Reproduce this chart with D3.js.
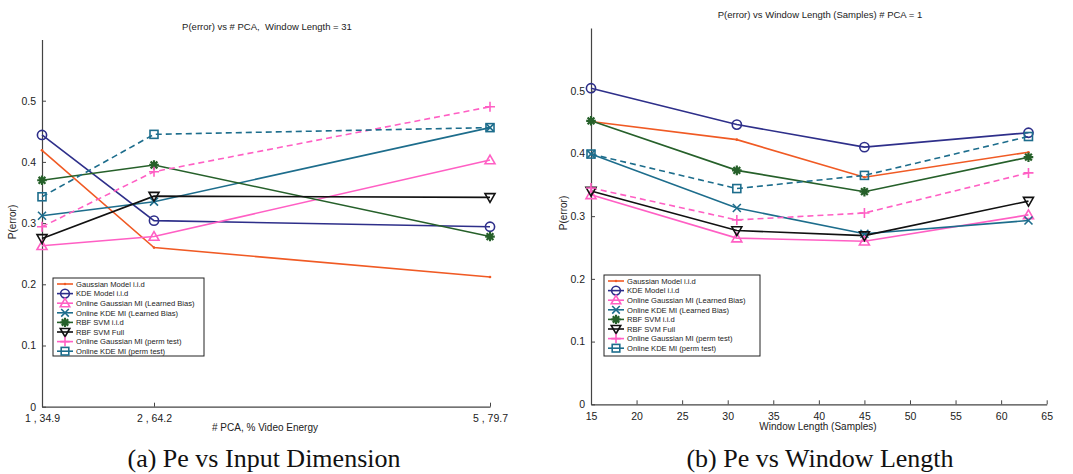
<!DOCTYPE html>
<html>
<head>
<meta charset="utf-8">
<script src="https://cdn.jsdelivr.net/npm/d3@7"></script>
<style>
  body { margin: 0; background: #fff; }
  svg { display: block; }
  text { font-family: "Liberation Sans", Arial, sans-serif; fill: #222; white-space: pre; }
  .cap { font-family: "Liberation Serif", "Times New Roman", serif; font-size: 26px; fill: #111; }
</style>
</head>
<body>
<svg id="chart" width="1073" height="474"></svg>
<script>
// ---------- DATA ----------
const seriesNames = [
  "Gaussian Model i.i.d",
  "KDE Model i.i.d",
  "Online Gaussian MI (Learned Bias)",
  "Online KDE MI (Learned Bias)",
  "RBF SVM i.i.d",
  "RBF SVM Full",
  "Online Gaussian MI (perm test)",
  "Online KDE MI (perm test)"
];
// left panel: x = # PCA
const pcaX = [1, 2, 5];
const pcaTickLabels = ["1 , 34.9", "2 , 64.2", "5 , 79.7"];
const leftGaussian   = [0.419, 0.260, 0.212];
const leftKDE        = [0.444, 0.304, 0.294];
const leftOGaussLB   = [0.263, 0.278, 0.403];
const leftOKDELB     = [0.312, 0.335, 0.456];
const leftSVMiid     = [0.370, 0.395, 0.278];
const leftSVMFull    = [0.275, 0.344, 0.342];
const leftOGaussPerm = [0.294, 0.384, 0.490];
const leftOKDEPerm   = [0.343, 0.445, 0.456];

// right panel: x = window length
const winX = [15, 31, 45, 63];
const winTicks = [15, 20, 25, 30, 35, 40, 45, 50, 55, 60, 65];
const rightGaussian   = [0.451, 0.422, 0.362, 0.402];
const rightKDE        = [0.504, 0.446, 0.410, 0.433];
const rightOGaussLB   = [0.334, 0.265, 0.260, 0.302];
const rightOKDELB     = [0.399, 0.313, 0.272, 0.293];
const rightSVMiid     = [0.452, 0.373, 0.339, 0.394];
const rightSVMFull    = [0.340, 0.277, 0.269, 0.324];
const rightOGaussPerm = [0.345, 0.294, 0.305, 0.369];
const rightOKDEPerm   = [0.399, 0.344, 0.365, 0.427];

const yTicks = [0, 0.1, 0.2, 0.3, 0.4, 0.5];

// ---------- STYLE ----------
const styles = [
  { color: "#f05a24", dash: null,  marker: "dot" },
  { color: "#2e2f8a", dash: null,  marker: "circle" },
  { color: "#ff5fc4", dash: null,  marker: "triUp" },
  { color: "#1d6d8c", dash: null,  marker: "x" },
  { color: "#26602a", dash: null,  marker: "star" },
  { color: "#111111", dash: null,  marker: "triDown" },
  { color: "#ff5fc4", dash: "6,4", marker: "plus" },
  { color: "#1d6d8c", dash: "6,4", marker: "square" }
];

const svg = d3.select("#chart");

function drawMarker(g, type, x, y, color, s) {
  s = s || 1;
  const sw = 1.6;
  if (type === "dot") {
    g.append("circle").attr("cx", x).attr("cy", y).attr("r", 1.3 * s).attr("fill", color);
  } else if (type === "circle") {
    g.append("circle").attr("cx", x).attr("cy", y).attr("r", 4.6 * s)
      .attr("fill", "none").attr("stroke", color).attr("stroke-width", sw);
  } else if (type === "triUp") {
    const r = 5 * s;
    g.append("path").attr("d", `M${x},${y - r}L${x + r},${y + r * 0.75}L${x - r},${y + r * 0.75}Z`)
      .attr("fill", "none").attr("stroke", color).attr("stroke-width", sw);
  } else if (type === "triDown") {
    const r = 5 * s;
    g.append("path").attr("d", `M${x},${y + r}L${x + r},${y - r * 0.75}L${x - r},${y - r * 0.75}Z`)
      .attr("fill", "none").attr("stroke", color).attr("stroke-width", sw);
  } else if (type === "x") {
    const r = 4 * s;
    g.append("path").attr("d", `M${x - r},${y - r}L${x + r},${y + r}M${x - r},${y + r}L${x + r},${y - r}`)
      .attr("stroke", color).attr("stroke-width", sw);
  } else if (type === "plus") {
    const r = 5 * s;
    g.append("path").attr("d", `M${x - r},${y}L${x + r},${y}M${x},${y - r}L${x},${y + r}`)
      .attr("stroke", color).attr("stroke-width", sw);
  } else if (type === "square") {
    const r = 4 * s;
    g.append("rect").attr("x", x - r).attr("y", y - r).attr("width", 2 * r).attr("height", 2 * r)
      .attr("fill", "none").attr("stroke", color).attr("stroke-width", sw);
  } else if (type === "star") {
    const r = 4.8 * s;
    let d = "";
    for (let i = 0; i < 4; i++) {
      const a = i * Math.PI / 4;
      d += `M${x - r * Math.cos(a)},${y - r * Math.sin(a)}L${x + r * Math.cos(a)},${y + r * Math.sin(a)}`;
    }
    g.append("path").attr("d", d).attr("stroke", color).attr("stroke-width", 2.2);
    g.append("circle").attr("cx", x).attr("cy", y).attr("r", 2.4 * s).attr("fill", color);
  }
}

function panel(opts) {
  const g = svg.append("g");
  const x = d3.scaleLinear().domain(opts.xDomain).range(opts.xRange);
  const y = d3.scaleLinear().domain([0, 0.6]).range([opts.y0, opts.yTop]);

  // axes (ticks inward)
  const xAxis = d3.axisBottom(x).tickValues(opts.xTicks).tickSizeInner(-4).tickSizeOuter(0)
    .tickPadding(8).tickFormat((d, i) => opts.xTickLabels ? opts.xTickLabels[i] : d);
  const gx = g.append("g").attr("transform", `translate(0,${opts.y0})`).call(xAxis);
  gx.selectAll("text").attr("font-size", "10.5px").attr("fill", "#333");
  const yAxis = d3.axisLeft(y).tickValues(yTicks).tickSizeInner(-4).tickSizeOuter(0)
    .tickPadding(6).tickFormat(d => d === 0 ? "0" : d3.format(".1f")(d));
  const gy = g.append("g").attr("transform", `translate(${opts.xRange[0]},0)`).call(yAxis);
  gy.selectAll("text").attr("font-size", "10.5px").attr("fill", "#333");
  g.selectAll(".domain").attr("stroke", "#444").attr("stroke-width", 1.2);
  g.selectAll(".tick line").attr("stroke", "#444");

  // series
  const line = d3.line().x((d, i) => x(opts.xs[i])).y(d => y(d));
  opts.values.forEach((vals, k) => {
    const st = styles[k];
    g.append("path").attr("d", line(vals)).attr("fill", "none")
      .attr("stroke", st.color).attr("stroke-width", 1.6)
      .attr("stroke-dasharray", st.dash);
  });
  opts.values.forEach((vals, k) => {
    const st = styles[k];
    vals.forEach((v, i) => drawMarker(g, st.marker, x(opts.xs[i]), y(v), st.color));
  });

  // title & labels
  g.append("text").attr("x", opts.titleX).attr("y", opts.titleY).attr("text-anchor", "middle")
    .attr("font-size", "9.5px").text(opts.title);
  g.append("text").attr("x", opts.xLabelX).attr("y", opts.xLabelY).attr("text-anchor", "middle")
    .attr("font-size", "10px").text(opts.xLabel);
  g.append("text").attr("transform", `translate(${opts.yLabelX},${opts.yLabelY}) rotate(-90)`)
    .attr("text-anchor", "middle").attr("font-size", "10px").text("P(error)");
  g.append("text").attr("class", "cap").attr("x", opts.capX).attr("y", 467)
    .attr("text-anchor", "middle").text(opts.caption);

  // legend
  const L = opts.legend;
  const lg = g.append("g");
  lg.append("rect").attr("x", L.x).attr("y", L.y).attr("width", L.w).attr("height", L.h)
    .attr("fill", "#fff").attr("stroke", "#222").attr("stroke-width", 1);
  seriesNames.forEach((name, k) => {
    const st = styles[k];
    const cy = L.y + 6 + k * 9.6;
    lg.append("line").attr("x1", L.x + 4).attr("x2", L.x + 20).attr("y1", cy).attr("y2", cy)
      .attr("stroke", st.color).attr("stroke-width", 1.6);
    drawMarker(lg, st.marker, L.x + 12, cy, st.color, 0.95);
    lg.append("text").attr("x", L.x + 23).attr("y", cy + 2.8).attr("font-size", "7.6px")
      .attr("fill", "#333").text(name);
  });
}

panel({
  xDomain: [1, 5], xRange: [42, 490], y0: 406.7, yTop: 39.5,
  xs: pcaX, xTicks: pcaX, xTickLabels: pcaTickLabels,
  values: [leftGaussian, leftKDE, leftOGaussLB, leftOKDELB, leftSVMiid, leftSVMFull, leftOGaussPerm, leftOKDEPerm],
  title: "P(error) vs # PCA,  Window Length = 31", titleX: 267, titleY: 30,
  xLabel: "# PCA, % Video Energy", xLabelX: 265, xLabelY: 431,
  yLabelX: 16, yLabelY: 222,
  caption: "(a) Pe vs Input Dimension", capX: 264,
  legend: { x: 53, y: 278, w: 151, h: 78 }
});

panel({
  xDomain: [15, 65], xRange: [591, 1046.7], y0: 404.3, yTop: 28,
  xs: winX, xTicks: winTicks, xTickLabels: null,
  values: [rightGaussian, rightKDE, rightOGaussLB, rightOKDELB, rightSVMiid, rightSVMFull, rightOGaussPerm, rightOKDEPerm],
  title: "P(error) vs Window Length (Samples) # PCA = 1", titleX: 820, titleY: 18,
  xLabel: "Window Length (Samples)", xLabelX: 818, xLabelY: 430,
  yLabelX: 567, yLabelY: 213,
  caption: "(b) Pe vs Window Length", capX: 820,
  legend: { x: 604, y: 275, w: 156, h: 81 }
});
</script>
</body>
</html>
